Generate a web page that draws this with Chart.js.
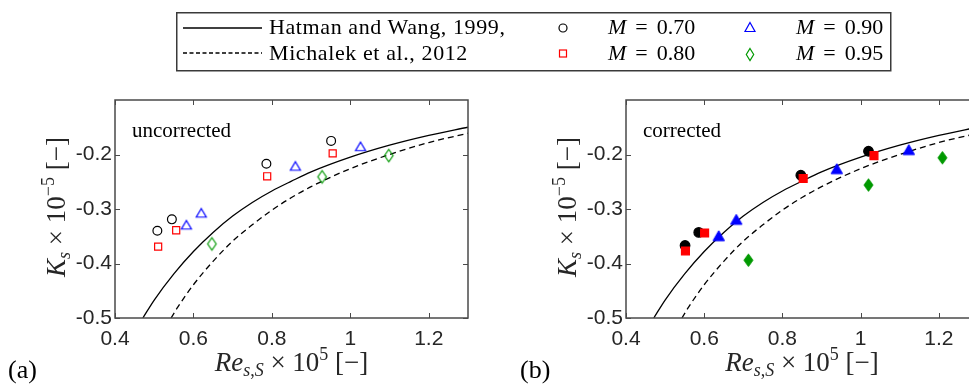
<!DOCTYPE html>
<html>
<head>
<meta charset="utf-8">
<script src="https://cdn.jsdelivr.net/npm/chart.js@4.4.1/dist/chart.umd.min.js"></script>
<style>
  html, body { margin: 0; padding: 0; background: #fff; overflow: hidden; width: 969px; height: 385px; }
  #page { position: relative; width: 969px; height: 385px; overflow: hidden; background: #fff; }
  canvas { position: absolute; top: 0; }
  #chartA { left: 0; }
  #chartB { left: 500px; }
  #overlay { position: absolute; left: 0; top: 0; pointer-events: none; }
  .serif { font-family: "Liberation Serif", "Times New Roman", serif; }
  .lgtext { letter-spacing: 0.6px; }
</style>
</head>
<body>
<div id="page">
  <canvas id="chartA" width="500" height="385"></canvas>
  <canvas id="chartB" width="490" height="385"></canvas>
  <svg id="overlay" width="969" height="385" xmlns="http://www.w3.org/2000/svg">
    <!-- legend -->
    <rect x="176.75" y="12.75" width="714" height="58" fill="#fff" stroke="#3a3a3a" stroke-width="1.5"/>
    <line x1="183" y1="28" x2="262" y2="28" stroke="#000" stroke-width="1.3"/>
    <line x1="183" y1="53" x2="262" y2="53" stroke="#000" stroke-width="1.3" stroke-dasharray="4 2.5"/>
    <text class="serif lgtext" x="269" y="34" font-size="22" fill="#000">Hatman and Wang, 1999,</text>
    <text class="serif lgtext" x="269" y="59.5" font-size="22" fill="#000">Michalek et al., 2012</text>
    <circle cx="563" cy="28" r="4" fill="none" stroke="#000" stroke-width="1.2"/>
    <rect x="559.5" y="50" width="7" height="7" fill="none" stroke="#ff0000" stroke-width="1.2"/>
    <text class="serif" x="608" y="34" font-size="22" fill="#000"><tspan font-style="italic">M</tspan><tspan dx="9">=</tspan><tspan dx="9">0.70</tspan></text>
    <text class="serif" x="608" y="59.5" font-size="22" fill="#000"><tspan font-style="italic">M</tspan><tspan dx="9">=</tspan><tspan dx="9">0.80</tspan></text>
    <polygon points="750,22.5 755,31.5 745,31.5" fill="none" stroke="#0000ff" stroke-width="1.2"/>
    <polygon points="750,48.5 753.7,54.5 750,60.5 746.3,54.5" fill="none" stroke="#009900" stroke-width="1.2"/>
    <text class="serif" x="796" y="34" font-size="22" fill="#000"><tspan font-style="italic">M</tspan><tspan dx="9">=</tspan><tspan dx="9">0.90</tspan></text>
    <text class="serif" x="796" y="59.5" font-size="22" fill="#000"><tspan font-style="italic">M</tspan><tspan dx="9">=</tspan><tspan dx="9">0.95</tspan></text>
    <!-- panel letters -->
    <text class="serif" x="8" y="378" font-size="26" fill="#000">(a)</text>
    <text class="serif" x="520" y="378" font-size="26" fill="#000">(b)</text>
  </svg>
</div>
<script>
// Axis ticks (Re_{s,S} x 1e5 and K_s x 1e5)
const reTicks = [0.4, 0.6, 0.8, 1, 1.2];
const reTickLabels = ['0.4', '0.6', '0.8', '1', '1.2'];
const ksTicks = [-0.5, -0.4, -0.3, -0.2];
const ksTickLabels = ['-0.5', '-0.4', '-0.3', '-0.2'];

// Correlation curves
const hatmanRe = [0.471, 0.50, 0.55, 0.60, 0.65, 0.70, 0.75, 0.80, 0.85, 0.90, 1.00, 1.10, 1.20, 1.30];
const hatmanKs = [-0.500, -0.467, -0.419, -0.378, -0.343, -0.313, -0.288, -0.267, -0.249, -0.232, -0.205, -0.183, -0.165, -0.150];
const michalekRe = [0.543, 0.56, 0.60, 0.65, 0.70, 0.75, 0.80, 0.85, 0.90, 1.00, 1.10, 1.20, 1.30];
const michalekKs = [-0.500, -0.480, -0.439, -0.396, -0.359, -0.329, -0.302, -0.279, -0.259, -0.226, -0.200, -0.178, -0.161];

// (a) uncorrected measurements
const uncM070Re = [0.508, 0.545, 0.786, 0.951];
const uncM070Ks = [-0.340, -0.319, -0.217, -0.175];
const uncM080Re = [0.510, 0.556, 0.788, 0.955];
const uncM080Ks = [-0.369, -0.339, -0.240, -0.198];
const uncM090Re = [0.582, 0.620, 0.860, 1.026];
const uncM090Ks = [-0.329, -0.307, -0.221, -0.185];
const uncM095Re = [0.647, 0.928, 1.098];
const uncM095Ks = [-0.364, -0.241, -0.202];

// (b) corrected measurements
const corM070Re = [0.551, 0.586, 0.847, 1.020];
const corM070Ks = [-0.367, -0.343, -0.238, -0.194];
const corM080Re = [0.552, 0.601, 0.853, 1.034];
const corM080Ks = [-0.377, -0.344, -0.244, -0.202];
const corM090Re = [0.637, 0.682, 0.939, 1.123];
const corM090Ks = [-0.349, -0.319, -0.226, -0.191];
const corM095Re = [0.713, 1.020, 1.209];
const corM095Ks = [-0.394, -0.256, -0.206];

const BLUE = '#0000ff', RED = '#ff0000', GREEN = '#009900';

function pts(xs, ys) { return xs.map((v, i) => ({ x: v, y: ys[i] })); }

// Marker images for triangle and diamond symbols
function marker(shape, w, h, stroke, fill, lw) {
  const pad = 2;
  const c = document.createElement('canvas');
  c.width = Math.ceil(w + 2 * pad);
  c.height = Math.ceil(h + 2 * pad);
  const g = c.getContext('2d');
  const cx = c.width / 2, cy = c.height / 2;
  g.beginPath();
  if (shape === 'tri') {
    g.moveTo(cx, cy - h / 2);
    g.lineTo(cx + w / 2, cy + h / 2);
    g.lineTo(cx - w / 2, cy + h / 2);
  } else {
    g.moveTo(cx, cy - h / 2);
    g.lineTo(cx + w / 2, cy);
    g.lineTo(cx, cy + h / 2);
    g.lineTo(cx - w / 2, cy);
  }
  g.closePath();
  if (fill) { g.fillStyle = fill; g.fill(); }
  if (stroke) { g.strokeStyle = stroke; g.lineWidth = lw; g.stroke(); }
  return c;
}

function serif(size, italic) {
  return (italic ? 'italic ' : '') + size + 'px "Liberation Serif", "Times New Roman", serif';
}

function drawRich(ctx, parts, x, y) {
  let total = 0;
  parts.forEach(p => { ctx.font = serif(p.s, p.it); p.w = ctx.measureText(p.t).width; total += p.w; });
  let cx = x - total / 2;
  ctx.textBaseline = 'alphabetic';
  ctx.textAlign = 'left';
  parts.forEach(p => { ctx.font = serif(p.s, p.it); ctx.fillText(p.t, cx, y + (p.dy || 0)); cx += p.w; });
}

const xTitle = [
  { t: 'Re', it: true, s: 27 },
  { t: 's', it: true, s: 18, dy: 5 },
  { t: ',', s: 18, dy: 5 },
  { t: 'S', it: true, s: 18, dy: 5 },
  { t: ' \u00d7 10', s: 27 },
  { t: '5', s: 18, dy: -11 },
  { t: ' [\u2212]', s: 27 }
];
const yTitle = [
  { t: 'K', it: true, s: 27 },
  { t: 's', it: true, s: 18, dy: 5 },
  { t: ' \u00d7 10', s: 27 },
  { t: '\u22125', s: 18, dy: -11 },
  { t: ' [\u2212]', s: 27 }
];

// Axes box with inward ticks, axis titles and panel caption
const framePlugin = {
  id: 'frame',
  afterDatasetsDraw(chart, args, opts) {
    const { ctx, chartArea: a, scales: { x, y } } = chart;
    ctx.save();
    ctx.strokeStyle = '#4a4a4a';
    ctx.lineWidth = 1;
    ctx.beginPath();
    reTicks.forEach(v => {
      const px = Math.round(x.getPixelForValue(v)) + 0.5;
      ctx.moveTo(px, a.bottom); ctx.lineTo(px, a.bottom - 5);
      ctx.moveTo(px, a.top); ctx.lineTo(px, a.top + 5);
    });
    ksTicks.forEach(v => {
      const py = Math.round(y.getPixelForValue(v)) + 0.5;
      ctx.moveTo(a.left, py); ctx.lineTo(a.left + 5, py);
      ctx.moveTo(a.right, py); ctx.lineTo(a.right - 5, py);
    });
    ctx.stroke();
    ctx.lineWidth = 1.5;
    ctx.strokeRect(a.left, a.top, a.right - a.left, a.bottom - a.top);

    ctx.fillStyle = '#262626';
    drawRich(ctx, xTitle, (a.left + a.right) / 2, 371);
    ctx.save();
    ctx.translate(a.left - 50, (a.top + a.bottom) / 2 - 2);
    ctx.rotate(-Math.PI / 2);
    drawRich(ctx, yTitle, 0, 0);
    ctx.restore();

    ctx.fillStyle = '#000';
    ctx.font = serif(21, false);
    ctx.textAlign = 'left';
    ctx.textBaseline = 'alphabetic';
    ctx.fillText(opts.caption, a.left + 17, 137);
    ctx.restore();
  }
};

function makeChart(id, caption, yWidth, padRight, data) {
  const triOpen = marker('tri', 10, 8.5, BLUE, null, 1.2);
  const diaOpen = marker('dia', 8.5, 12.5, GREEN, null, 1.2);
  const triFill = marker('tri', 11.5, 10, BLUE, BLUE, 1);
  const diaFill = marker('dia', 9, 12.5, GREEN, GREEN, 1);
  const filled = data.filled;
  return new Chart(document.getElementById(id), {
    type: 'scatter',
    data: {
      datasets: [
        { label: 'Hatman and Wang, 1999', data: pts(hatmanRe, hatmanKs), showLine: true, pointRadius: 0,
          borderColor: '#000', borderWidth: 1.3, cubicInterpolationMode: 'monotone', order: 10 },
        { label: 'Michalek et al., 2012', data: pts(michalekRe, michalekKs), showLine: true, pointRadius: 0,
          borderColor: '#000', borderWidth: 1.3, borderDash: [6, 4], cubicInterpolationMode: 'monotone', order: 9 },
        { label: 'M = 0.70', data: pts(data.m70[0], data.m70[1]), pointStyle: 'circle',
          pointRadius: filled ? 4.8 : 4.4, borderColor: '#000', backgroundColor: filled ? '#000' : 'rgba(0,0,0,0)',
          pointBorderWidth: 1.2, order: 4 },
        { label: 'M = 0.80', data: pts(data.m80[0], data.m80[1]), pointStyle: 'rect',
          pointRadius: filled ? 5.6 : 5, borderColor: RED, backgroundColor: filled ? RED : 'rgba(0,0,0,0)',
          pointBorderWidth: 1.2, order: 3 },
        { label: 'M = 0.90', data: pts(data.m90[0], data.m90[1]), pointStyle: filled ? triFill : triOpen,
          pointRadius: 5, order: 2 },
        { label: 'M = 0.95', data: pts(data.m95[0], data.m95[1]), pointStyle: filled ? diaFill : diaOpen,
          pointRadius: 5, order: 1 }
      ]
    },
    options: {
      responsive: false,
      animation: false,
      devicePixelRatio: 1,
      layout: { padding: { left: 0, top: 100, right: padRight, bottom: 0 } },
      plugins: { legend: { display: false }, tooltip: { enabled: false }, frame: { caption: caption } },
      scales: {
        x: {
          type: 'linear', min: 0.4, max: 1.3,
          afterBuildTicks: s => { s.ticks = reTicks.map(v => ({ value: v })); },
          afterFit: s => { s.height = 67; },
          ticks: { callback: (v, i) => reTickLabels[i], font: { family: '"Liberation Sans", Arial, sans-serif', size: 21 },
                   color: '#262626', padding: 9, maxRotation: 0, autoSkip: false },
          grid: { display: false, drawTicks: false },
          border: { display: false }
        },
        y: {
          type: 'linear', min: -0.5, max: -0.1,
          afterBuildTicks: s => { s.ticks = ksTicks.map(v => ({ value: v })); },
          afterFit: s => { s.width = yWidth; },
          ticks: { callback: (v, i) => ksTickLabels[i], font: { family: '"Liberation Sans", Arial, sans-serif', size: 21 },
                   color: '#262626', padding: 3, autoSkip: false },
          grid: { display: false, drawTicks: false },
          border: { display: false }
        }
      }
    },
    plugins: [framePlugin]
  });
}

makeChart('chartA', 'uncorrected', 115, 32, {
  filled: false,
  m70: [uncM070Re, uncM070Ks], m80: [uncM080Re, uncM080Ks],
  m90: [uncM090Re, uncM090Ks], m95: [uncM095Re, uncM095Ks]
});
makeChart('chartB', 'corrected', 126, 12, {
  filled: true,
  m70: [corM070Re, corM070Ks], m80: [corM080Re, corM080Ks],
  m90: [corM090Re, corM090Ks], m95: [corM095Re, corM095Ks]
});
</script>
</body>
</html>
